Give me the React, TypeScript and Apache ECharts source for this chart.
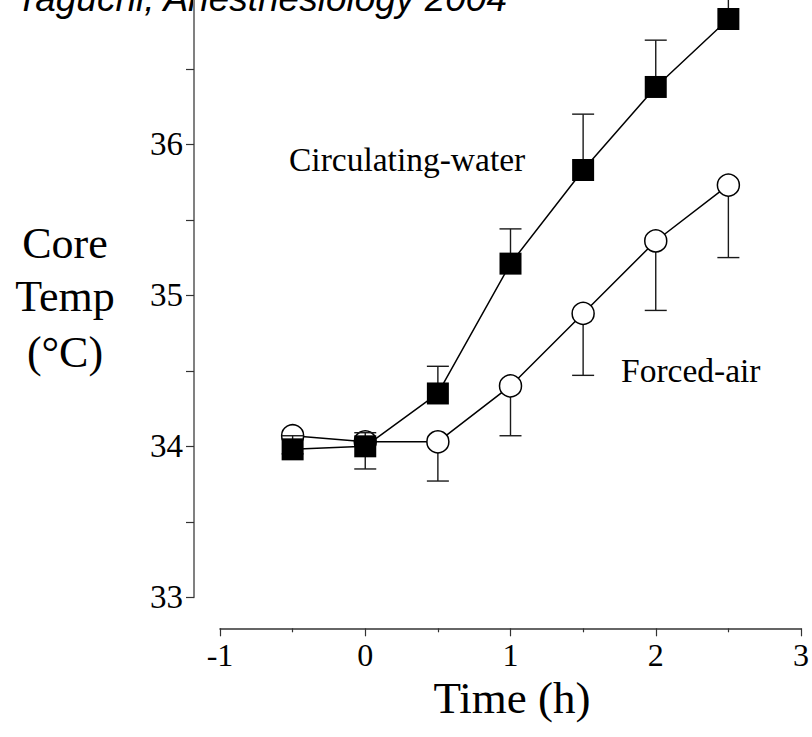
import React, { useEffect, useRef } from "react";
import * as echarts from "echarts";

// Time after start of warming (h)
const times = [-0.5, 0, 0.5, 1, 1.5, 2, 2.5];

// Circulating-water warming: mean core temperature and upper SD bound (°C)
const waterMean = [33.98, 34.0, 34.35, 35.21, 35.83, 36.38, 36.83];
const waterUpper = [34.07, 34.09, 34.53, 35.44, 36.2, 36.69, 37.1];

// Forced-air warming: mean core temperature and lower SD bound (°C)
const airMean = [34.07, 34.03, 34.03, 34.4, 34.88, 35.36, 35.73];
const airLower = [33.95, 33.85, 33.77, 34.07, 34.47, 34.9, 35.25];

// Axis ticks and labels
const xLabels = [-1, 0, 1, 2, 3];
const yLabels = [33, 34, 35, 36];
const yTickValues = [33, 33.5, 34, 34.5, 35, 35.5, 36, 36.5];

const SERIF = "'Liberation Serif', 'Times New Roman', serif";
const SANS = "'Liberation Sans', Arial, sans-serif";

function errorBar(capAtHigh: boolean) {
  return (params: any, api: any) => {
    const x = api.value(0);
    const lo = api.coord([x, api.value(1)]);
    const hi = api.coord([x, api.value(2)]);
    const cap = capAtHigh ? hi : lo;
    const half = 11;
    const style = { stroke: "#1a1a1a", lineWidth: 1.4 };
    return {
      type: "group",
      children: [
        { type: "line", shape: { x1: lo[0], y1: lo[1], x2: hi[0], y2: hi[1] }, style },
        { type: "line", shape: { x1: cap[0] - half, y1: cap[1], x2: cap[0] + half, y2: cap[1] }, style },
      ],
    };
  };
}

export default function App() {
  const ref = useRef<HTMLDivElement>(null);

  useEffect(() => {
    if (!ref.current) return;
    const chart = echarts.init(ref.current, null, { renderer: "svg" });

    const waterPts = times.map((t, i) => [t, waterMean[i]]);
    const airPts = times.map((t, i) => [t, airMean[i]]);
    const waterBars = times.map((t, i) => [t, waterMean[i], waterUpper[i]]);
    const airBars = times.map((t, i) => [t, airLower[i], airMean[i]]);

    chart.setOption({
      animation: false,
      backgroundColor: "#ffffff",
      grid: { left: 220, right: 8, top: 0, bottom: 139.7, containLabel: false },
      xAxis: {
        type: "value",
        min: -1,
        max: 3,
        interval: 1,
        offset: 31,
        axisLine: { show: true, onZero: false, lineStyle: { color: "#333", width: 1.5 } },
        axisTick: { show: true, length: 8, lineStyle: { color: "#333", width: 1.2 } },
        minorTick: { show: true, splitNumber: 2, length: 4, lineStyle: { color: "#333", width: 1.2 } },
        splitLine: { show: false },
        axisLabel: {
          margin: 11,
          color: "#000",
          fontFamily: SERIF,
          fontSize: 32,
          customValues: xLabels,
        },
      },
      yAxis: {
        type: "value",
        min: 33,
        max: 36.956,
        offset: 26,
        axisLine: { show: true, onZero: false, lineStyle: { color: "#808080", width: 2 } },
        axisTick: { show: true, length: 8, lineStyle: { color: "#333", width: 1.2 }, customValues: yTickValues },
        splitLine: { show: false },
        axisLabel: {
          margin: 11,
          color: "#000",
          fontFamily: SERIF,
          fontSize: 33,
          customValues: yLabels,
        },
      },
      graphic: [
        {
          type: "text",
          left: 16,
          top: -20,
          style: {
            text: "Taguchi, Anesthesiology 2004",
            font: `italic 37px ${SANS}`,
            fill: "#000",
          },
        },
        {
          type: "text",
          x: 65,
          y: 243,
          style: { text: "Core", font: `44px ${SERIF}`, fill: "#000", align: "center", verticalAlign: "middle" },
        },
        {
          type: "text",
          x: 65,
          y: 296,
          style: { text: "Temp", font: `44px ${SERIF}`, fill: "#000", align: "center", verticalAlign: "middle" },
        },
        {
          type: "text",
          x: 65,
          y: 352,
          style: { text: "(°C)", font: `44px ${SERIF}`, fill: "#000", align: "center", verticalAlign: "middle" },
        },
        {
          type: "text",
          x: 512,
          y: 698,
          style: { text: "Time (h)", font: `45px ${SERIF}`, fill: "#000", align: "center", verticalAlign: "middle" },
        },
        {
          type: "text",
          x: 289,
          y: 159,
          style: { text: "Circulating-water", font: `33.5px ${SERIF}`, fill: "#000", align: "left", verticalAlign: "middle" },
        },
        {
          type: "text",
          x: 621,
          y: 370,
          style: { text: "Forced-air", font: `33.5px ${SERIF}`, fill: "#000", align: "left", verticalAlign: "middle" },
        },
      ],
      series: [
        {
          name: "Forced-air SD",
          type: "custom",
          renderItem: errorBar(false),
          data: airBars,
          encode: { x: 0, y: [1, 2] },
          clip: false,
          z: 2,
        },
        {
          name: "Forced-air",
          type: "line",
          data: airPts,
          symbol: "circle",
          symbolSize: 22,
          itemStyle: { color: "#fff", borderColor: "#000", borderWidth: 1.5 },
          lineStyle: { color: "#000", width: 1.5 },
          clip: false,
          z: 3,
        },
        {
          name: "Circulating-water SD",
          type: "custom",
          renderItem: errorBar(true),
          data: waterBars,
          encode: { x: 0, y: [1, 2] },
          clip: false,
          z: 4,
        },
        {
          name: "Circulating-water",
          type: "line",
          data: waterPts,
          symbol: "rect",
          symbolSize: 22,
          itemStyle: { color: "#000", borderColor: "#000", borderWidth: 0 },
          lineStyle: { color: "#000", width: 1.5 },
          clip: false,
          z: 5,
        },
      ],
    });

    return () => chart.dispose();
  }, []);

  return (
    <div
      ref={ref}
      style={{ position: "fixed", left: 0, top: 0, width: 812, height: 737, background: "#fff" }}
    />
  );
}
